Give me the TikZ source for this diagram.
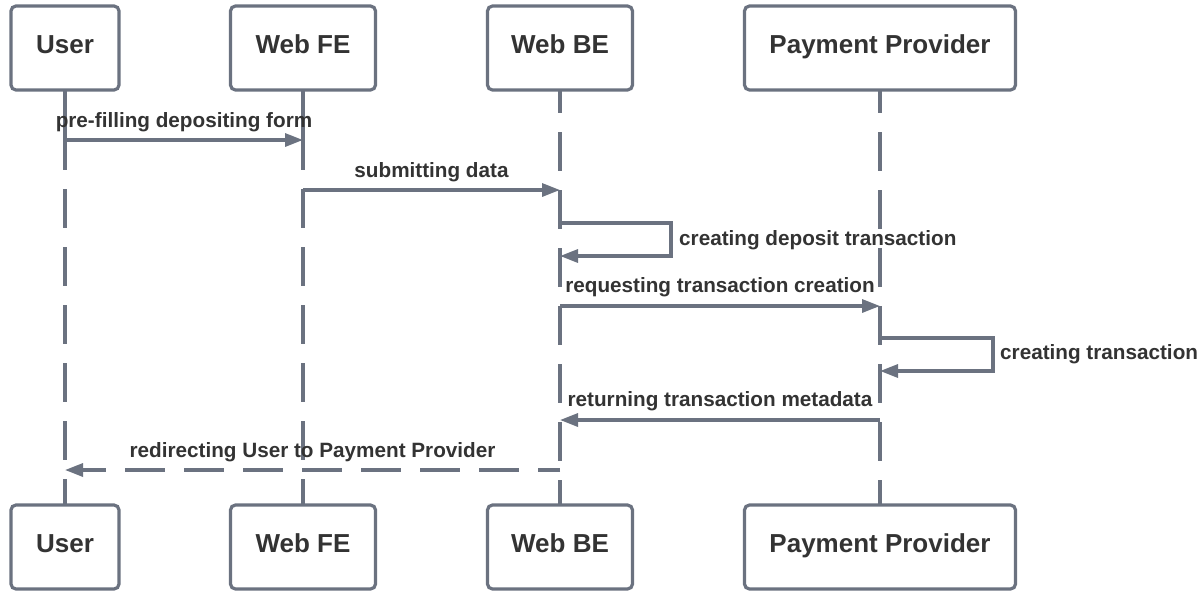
\documentclass[tikz,border=0pt]{standalone}
\usepackage{fontspec}
\setmainfont{Liberation Sans}
\usetikzlibrary{arrows.meta}
\definecolor{lc}{HTML}{6B7280}
\definecolor{tc}{HTML}{333333}
\tikzset{
  actor/.style={draw=lc, line width=3.2pt, rounded corners=5pt, fill=white,
    text=tc, font=\fontsize{26}{30}\selectfont\bfseries, minimum height=84pt,
    outer sep=0pt, inner sep=0pt, text height=18pt, text depth=7pt},
  lifeline/.style={draw=lc, line width=3.2pt, dash pattern=on 39pt off 19pt},
  lifesolid/.style={draw=lc, line width=3.2pt},
  msg/.style={draw=lc, line width=3.2pt, -{Triangle[length=18pt,width=13pt]}},
  retmsg/.style={msg, dash pattern=on 39.5pt off 19.5pt, dash phase=17.5pt},
  msglabel/.style={text=tc, font=\fontsize{20.7}{24}\selectfont\bfseries, inner sep=0pt, anchor=base},
  looplabel/.style={msglabel, anchor=base west}
}
\begin{document}
\begin{tikzpicture}[x=1pt,y=-1pt]
\useasboundingbox[fill=white] (0,0) rectangle (1201,590);

% actor boxes
\node[actor, minimum width=108pt] (u1) at (65,48) {User};
\node[actor, minimum width=145pt] (f1) at (303,48) {Web FE};
\node[actor, minimum width=145pt] (b1) at (560,48) {Web BE};
\node[actor, minimum width=271pt] (p1) at (880,48) {Payment Provider};
\node[actor, minimum width=108pt] (u2) at (65,547) {User};
\node[actor, minimum width=145pt] (f2) at (303,547) {Web FE};
\node[actor, minimum width=145pt] (b2) at (560,547) {Web BE};
\node[actor, minimum width=271pt] (p2) at (880,547) {Payment Provider};

% lifelines
\coordinate (uS) at (65,170);
\coordinate (fS) at (303,170);
\draw[lifesolid] (u1.south) -- (uS);
\draw[lifeline, dash phase=39pt] (uS) -- (u2.north);
\draw[lifesolid] (f1.south) -- (fS);
\draw[lifeline, dash phase=39pt] (fS) -- (f2.north);
\draw[lifeline, dash phase=16pt] (b1.south) -- (b2.north);
\draw[lifeline, dash phase=16pt] (p1.south) -- (p2.north);

% message points
\coordinate (u-m1) at (65,140);   \coordinate (f-m1) at (303,140);
\coordinate (f-m2) at (303,190);  \coordinate (b-m2) at (560,190);
\coordinate (b-l1) at (560,223);  \coordinate (b-l2) at (560,256);
\coordinate (b-m4) at (560,306);  \coordinate (p-m4) at (880,306);
\coordinate (p-l1) at (880,338);  \coordinate (p-l2) at (880,371);
\coordinate (p-m6) at (880,420);  \coordinate (b-m6) at (560,420);
\coordinate (b-m7) at (560,470);  \coordinate (u-m7) at (65,470);

% messages
\draw[msg] (u-m1) -- (f-m1);
\node[msglabel] (t1) at (184,127) {pre-filling depositing form};

\draw[msg] (f-m2) -- (b-m2);
\node[msglabel] (t2) at (431.5,177.5) {submitting data};

\draw[msg] (b-l1) -- ++(111,0) |- (b-l2);
\node[looplabel] (t3) at (679,245) {creating deposit transaction};

\draw[msg] (b-m4) -- (p-m4);
\node[msglabel] (t4) at (720,292) {requesting transaction creation};

\draw[msg] (p-l1) -- ++(113,0) |- (p-l2);
\node[looplabel] (t5) at (1000,359) {creating transaction};

\draw[msg] (p-m6) -- (b-m6);
\node[msglabel] (t6) at (720,406.5) {returning transaction metadata};

\draw[retmsg] (b-m7) -- (u-m7);
\node[msglabel] (t7) at (312.5,457.5) {redirecting User to Payment Provider};
\end{tikzpicture}
\end{document}
